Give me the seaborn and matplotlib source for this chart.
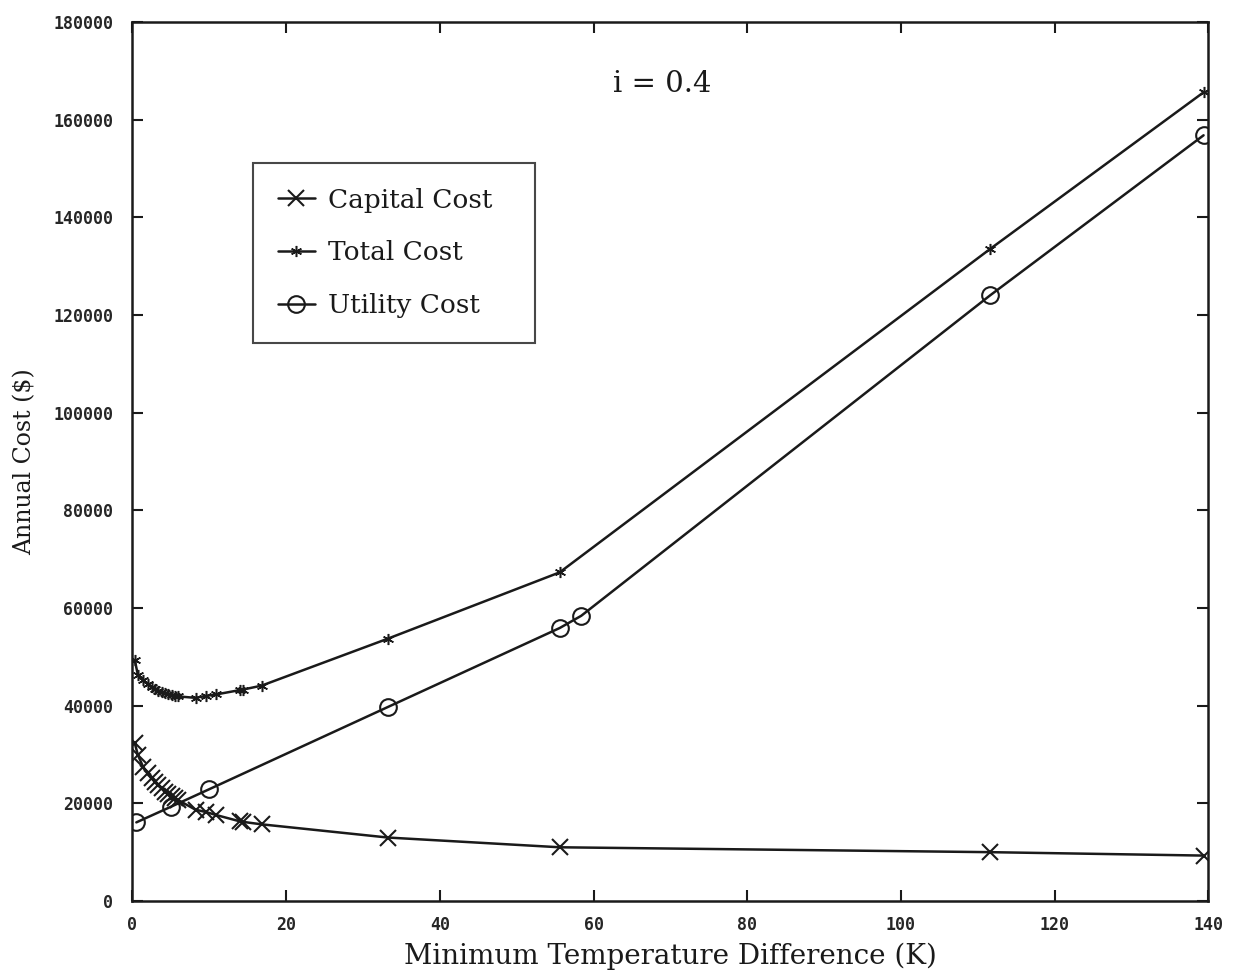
import matplotlib
matplotlib.use("Agg")
import matplotlib.pyplot as plt
import seaborn as sns
import pandas as pd

# ---- data ----
x_cap_total = [0.3, 0.7, 1.4, 2.0, 2.5, 2.9, 3.3, 3.8, 4.2, 4.6, 5.1, 5.5, 5.9,
               8.2, 9.6, 10.9, 14.0, 14.4, 16.8, 33.2, 55.6, 111.6, 139.4]
capital_cost = [32300, 29900, 27400, 26200, 25200, 24400, 23700, 23100, 22300,
                22000, 21500, 21100, 20700, 18700, 18200, 17600, 16300, 16200,
                15700, 13000, 11000, 10000, 9300]
total_cost = [49300, 46300, 45200, 44400, 43800, 43400, 43000, 42800, 42500,
              42300, 42100, 42000, 41900, 41600, 42000, 42300, 43200, 43300,
              44100, 53700, 67300, 133500, 165600]
x_utility = [0.5, 5.0, 10.0, 33.2, 55.6, 58.4, 111.6, 139.4]
utility_cost = [16100, 19300, 22900, 39700, 55900, 58400, 124000, 156800]

x_ticks = [0, 20, 40, 60, 80, 100, 120, 140]
y_ticks = [0, 20000, 40000, 60000, 80000, 100000, 120000, 140000, 160000, 180000]
annotation = "i = 0.4"

sns.set_style("white")
plt.rcParams["font.family"] = ["DejaVu Serif"]

fig = plt.figure(figsize=(12.36, 9.73), dpi=100)
ax = fig.add_axes([0.1072, 0.074, 0.8703, 0.9034])

ink = "#1a1a1a"
df_c = pd.DataFrame({"x": x_cap_total, "y": capital_cost})
df_t = pd.DataFrame({"x": x_cap_total, "y": total_cost})
df_u = pd.DataFrame({"x": x_utility, "y": utility_cost})

sns.lineplot(data=df_c, x="x", y="y", ax=ax, color=ink, lw=1.8, marker="x",
             markersize=11, markeredgewidth=1.5, markeredgecolor=ink,
             sort=False, label="Capital Cost")
sns.lineplot(data=df_t, x="x", y="y", ax=ax, color=ink, lw=1.8, marker=(6, 2, 0),
             markersize=8, markeredgewidth=1.1, markeredgecolor=ink,
             sort=False, label="Total Cost")
sns.lineplot(data=df_u, x="x", y="y", ax=ax, color=ink, lw=1.8, marker="o",
             markersize=12, markerfacecolor="none", markeredgecolor=ink,
             markeredgewidth=1.5, sort=False, label="Utility Cost")

ax.set_xlim(0, 140)
ax.set_ylim(0, 180000)
ax.set_xticks(x_ticks)
ax.set_yticks(y_ticks)
ax.set_xticklabels([str(v) for v in x_ticks], fontfamily="DejaVu Sans Mono",
                   fontweight="bold", fontsize=12)
ax.set_yticklabels([str(v) for v in y_ticks], fontfamily="DejaVu Sans Mono",
                   fontweight="bold", fontsize=12)
ax.tick_params(axis="both", direction="in", length=8, width=1.5, color=ink,
               top=True, right=True, bottom=True, left=True)
ax.tick_params(axis="y", pad=14)
ax.tick_params(axis="x", pad=11)

for s in ax.spines.values():
    s.set_visible(True)
    s.set_color(ink)
    s.set_linewidth(1.8)

ax.set_xlabel("Minimum Temperature Difference (K)", fontsize=20, color=ink, labelpad=6)
ax.set_ylabel("Annual Cost ($)", fontsize=17, color=ink, labelpad=12)

ax.text(69.0, 167400, annotation, fontsize=21, color=ink, ha="center", va="center")

leg = ax.legend(loc="upper left", bbox_to_anchor=(0.1117, 0.6374, 0.2623, 0.2026),
                mode="expand", fontsize=19,
                frameon=True, fancybox=False, edgecolor=ink, handlelength=1.4,
                handletextpad=0.5, labelspacing=1.05, borderpad=0.95,
                borderaxespad=0)
leg.get_frame().set_linewidth(1.5)
for t in leg.get_texts():
    t.set_color(ink)

fig.savefig("out.png", dpi=100)
